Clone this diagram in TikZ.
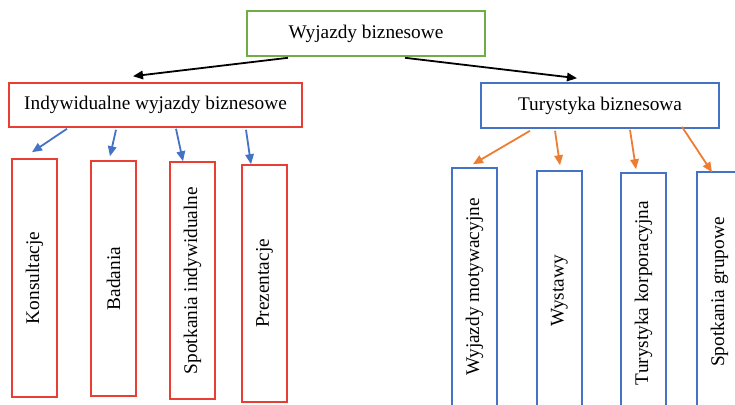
\documentclass[tikz,border=0pt]{standalone}
\usepackage{fontspec}
\setmainfont{Liberation Serif}
\usetikzlibrary{arrows.meta}
\definecolor{cgreen}{RGB}{112,173,71}
\definecolor{cred}{RGB}{232,62,52}
\definecolor{cblue}{RGB}{68,114,196}
\definecolor{corange}{RGB}{237,125,49}
\tikzset{
  box/.style={draw, line width=1.6pt, fill=white, inner sep=0pt, font=\fontsize{19.3}{22}\selectfont},
  vbox/.style={box, minimum width=45pt},
  arr/.style={line width=1.8pt, -{Triangle[length=10pt,width=8.5pt]}},
}
\begin{document}
\begin{tikzpicture}[x=1pt,y=-1pt]
\useasboundingbox (0,0) rectangle (735,404);
% top
\node[box, draw=cgreen, minimum width=238pt, minimum height=45pt] (top) at (366,33.5) {Wyjazdy biznesowe};
\node[box, draw=cred, minimum width=293pt, minimum height=44pt] (ind) at (155.5,105) {Indywidualne wyjazdy biznesowe};
\node[box, draw=cblue, minimum width=238pt, minimum height=45pt] (tur) at (600,105.5) {Turystyka biznesowa};
% left children
\node[vbox, draw=cred, minimum height=238pt] (k) at (34.5,278) {\rotatebox{90}{Konsultacje}};
\node[vbox, draw=cred, minimum height=235pt] (b) at (113.5,278.5) {\rotatebox{90}{Badania}};
\node[vbox, draw=cred, minimum height=237pt] (s) at (192.5,280.5) {\rotatebox{90}{Spotkania indywidualne}};
\node[vbox, draw=cred, minimum height=237pt] (p) at (264.5,283.5) {\rotatebox{90}{Prezentacje}};
% right children
\node[vbox, draw=cblue, minimum height=238pt] (wm) at (474.5,287) {\rotatebox{90}{Wyjazdy motywacyjne}};
\node[vbox, draw=cblue, minimum height=240pt] (wy) at (559.5,291) {\rotatebox{90}{Wystawy}};
\node[vbox, draw=cblue, minimum height=240pt] (tk) at (643.5,293) {\rotatebox{90}{Turystyka korporacyjna}};
\node[vbox, draw=cblue, minimum height=240pt] (sg) at (719.5,292) {\rotatebox{90}{Spotkania grupowe}};
% black arrows
\draw[arr, black] ([xshift=-78pt,yshift=-1pt]top.south) -- ([xshift=-22.5pt,yshift=6pt]ind.north);
\draw[arr, black] ([xshift=39pt,yshift=-1pt]top.south) -- ([xshift=-23pt,yshift=4pt]tur.north);
% blue arrows
\draw[arr, cblue] ([xshift=-88.5pt,yshift=-1pt]ind.south) -- ([xshift=-2.5pt,yshift=6pt]k.north);
\draw[arr, cblue] ([xshift=-39.5pt,yshift=-2pt]ind.south) -- ([xshift=-3.5pt,yshift=4pt]b.north);
\draw[arr, cblue] ([xshift=20.5pt,yshift=-1pt]ind.south) -- ([xshift=-9.5pt,yshift=0pt]s.north);
\draw[arr, cblue] ([xshift=90.5pt,yshift=-2pt]ind.south) -- ([xshift=-13.5pt,yshift=0pt]p.north);
% orange arrows
\draw[arr, corange] ([xshift=-70pt,yshift=-2pt]tur.south) -- ([xshift=-1.5pt,yshift=3pt]wm.north);
\draw[arr, corange] ([xshift=-45pt,yshift=-2pt]tur.south) -- ([xshift=0.5pt,yshift=5pt]wy.north);
\draw[arr, corange] ([xshift=30pt,yshift=-1pt]tur.south) -- ([xshift=-7.5pt,yshift=3pt]tk.north);
\draw[arr, corange] ([xshift=82pt,yshift=2pt]tur.south) -- ([xshift=-7.5pt,yshift=-1pt]sg.north);
\end{tikzpicture}
\end{document}
